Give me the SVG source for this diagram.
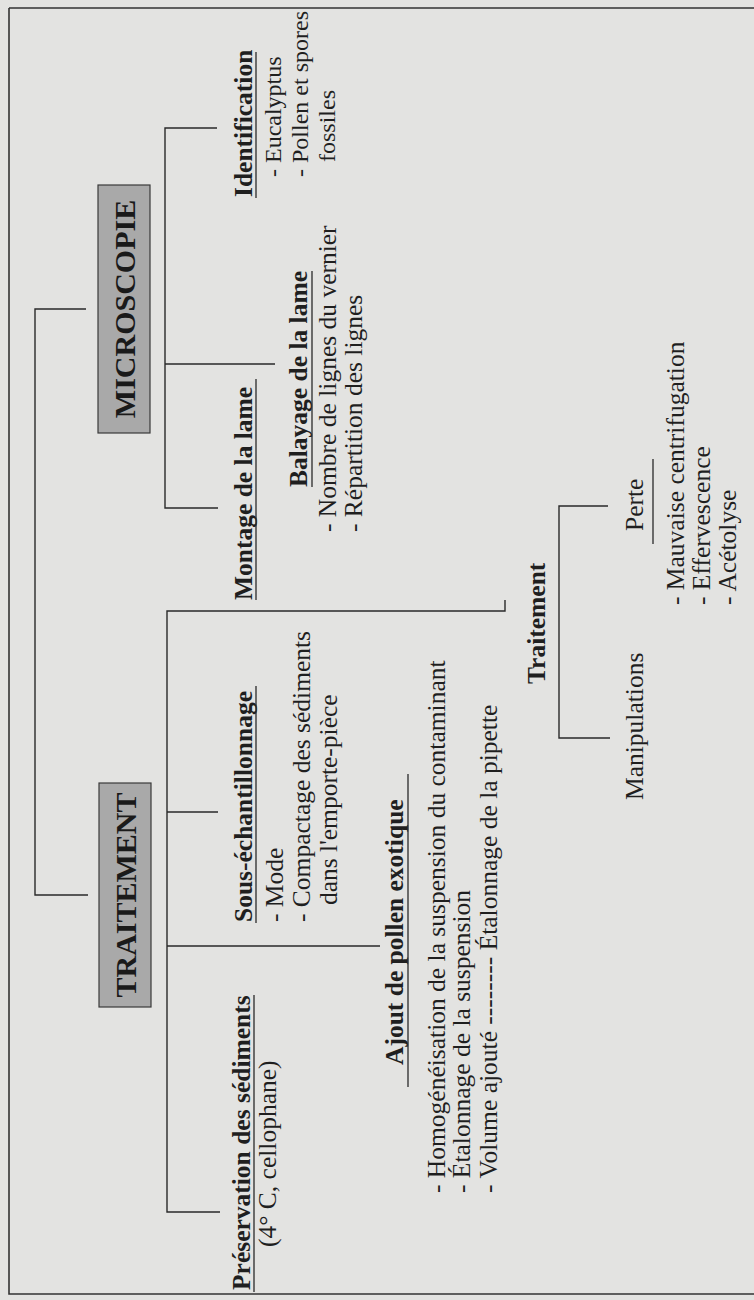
<svg xmlns="http://www.w3.org/2000/svg" width="754" height="1300" viewBox="0 0 754 1300">
<style>
.t{font-family:"Liberation Serif","Times New Roman",serif;font-size:25.5px;fill:#1f1f1f}
.s{font-size:24px}
.b{font-weight:bold}
.box{fill:#a9a9a9;stroke:#3a3a3a;stroke-width:1.2}
.bt{font-family:"Liberation Serif","Times New Roman",serif;font-size:30px;font-weight:bold;fill:#1a1a1a;text-anchor:middle}
.ln{stroke:#2a2a2a;stroke-width:1.4;fill:none}
.ul{stroke:#2a2a2a;stroke-width:1.3}
.fr{stroke:#333;stroke-width:1.6;fill:none}
</style>
<rect x="0" y="0" width="754" height="1300" fill="#e3e3e1"/>
<path class="fr" d="M9,8 H754 M9,8 V1294 H754"/>

<g id="connectors">
<path class="ln" d="M86,309 H35 V895 H88"/>
<path class="ln" d="M217,128 H165 V508 H218 M165,364 H275"/>
<path class="ln" d="M505,600 V611 H167 V1212 H220 M167,812 H218 M167,946 H380"/>
<path class="ln" d="M608,506 H559 V738 H610"/>
</g>

<g id="microscopie">
<rect class="box" x="98" y="185" width="52" height="248"/>
<text class="bt" transform="translate(135,309) rotate(-90)">MICROSCOPIE</text>
</g>

<g id="traitement-main">
<rect class="box" x="99" y="783" width="52" height="224"/>
<text class="bt" transform="translate(136,895) rotate(-90)">TRAITEMENT</text>
</g>

<g id="identification">
<text class="t b" transform="translate(252,197) rotate(-90)">Identification</text>
<line class="ul" x1="256" y1="198" x2="256" y2="52"/>
<text class="t s" transform="translate(281,177) rotate(-90)">- Eucalyptus</text>
<text class="t s" transform="translate(308,177) rotate(-90)">- Pollen et spores</text>
<text class="t s" transform="translate(335,162) rotate(-90)">fossiles</text>
</g>

<g id="montage">
<text class="t b" transform="translate(252,600) rotate(-90)">Montage de la lame</text>
<line class="ul" x1="256" y1="600" x2="256" y2="379"/>
</g>

<g id="balayage">
<text class="t b" transform="translate(307,487) rotate(-90)">Balayage de la lame</text>
<line class="ul" x1="312" y1="487" x2="312" y2="271"/>
<text class="t" transform="translate(336,532) rotate(-90)">- Nombre de lignes du vernier</text>
<text class="t" transform="translate(362,532) rotate(-90)">- Répartition des lignes</text>
</g>

<g id="sous-echantillonnage">
<text class="t b" transform="translate(252,922) rotate(-90)">Sous-échantillonnage</text>
<line class="ul" x1="256" y1="923" x2="256" y2="686"/>
<text class="t" transform="translate(283,922) rotate(-90)">- Mode</text>
<text class="t" transform="translate(310,922) rotate(-90)">- Compactage des sédiments</text>
<text class="t" transform="translate(337,905) rotate(-90)">dans l'emporte-pièce</text>
</g>

<g id="preservation">
<text class="t b" transform="translate(250,1290) rotate(-90)">Préservation des sédiments</text>
<line class="ul" x1="254" y1="1292" x2="254" y2="995"/>
<text class="t" transform="translate(276,1247) rotate(-90)">(4° C, cellophane)</text>
</g>

<g id="ajout">
<text class="t b" transform="translate(403,1065) rotate(-90)">Ajout de pollen exotique</text>
<line class="ul" x1="408" y1="1087" x2="408" y2="774"/>
<text class="t" transform="translate(445,1193) rotate(-90)">- Homogénéisation de la suspension du contaminant</text>
<text class="t" transform="translate(470,1193) rotate(-90)">- Étalonnage de la suspension</text>
<text class="t" transform="translate(497,1193) rotate(-90)">- Volume ajouté -------- Étalonnage de la pipette</text>
</g>

<g id="traitement">
<text class="t b" transform="translate(545,684) rotate(-90)">Traitement</text>
</g>

<g id="manipulations">
<text class="t" transform="translate(643,800) rotate(-90)">Manipulations</text>
</g>

<g id="perte">
<text class="t" transform="translate(643,531) rotate(-90)">Perte</text>
<line class="ul" x1="653" y1="544" x2="653" y2="459"/>
<text class="t" transform="translate(684,605) rotate(-90)">- Mauvaise centrifugation</text>
<text class="t" transform="translate(710,605) rotate(-90)">- Effervescence</text>
<text class="t" transform="translate(736,605) rotate(-90)">- Acétolyse</text>
</g>
</svg>
